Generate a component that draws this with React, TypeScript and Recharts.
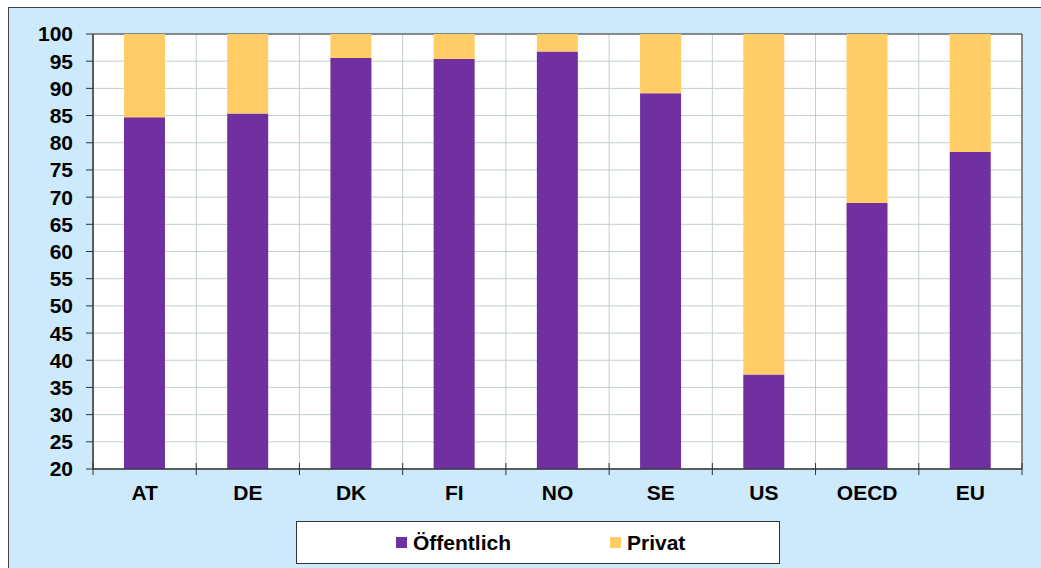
import { BarChart, Bar, XAxis, YAxis, CartesianGrid, Legend, ReferenceArea } from 'recharts';

const categories = ['AT', 'DE', 'DK', 'FI', 'NO', 'SE', 'US', 'OECD', 'EU'];
const oeffentlich = [84.7, 85.4, 95.6, 95.4, 96.8, 89.1, 37.4, 68.9, 78.3];
const privat = [15.3, 14.6, 4.4, 4.6, 3.2, 10.9, 62.6, 31.1, 21.7];
const yTicks = [20, 25, 30, 35, 40, 45, 50, 55, 60, 65, 70, 75, 80, 85, 90, 95, 100];
const legendOrder = ['oeff', 'privat'];

const COLORS = {
  oeff: '#7030a0',
  privat: '#ffcc66',
};

const FONT = '"Liberation Sans", Arial, sans-serif';
const FONT_SIZE = 21;
const CHART_W = 1032;
const CHART_H = 560;
const MARGIN = { top: 26, right: 19, left: 0, bottom: 59 };
const Y_AXIS_W = 84;

const data = categories.map((name, i) => ({
  name,
  oeff: oeffentlich[i],
  privat: privat[i],
}));

const plotWidth = CHART_W - MARGIN.left - MARGIN.right - Y_AXIS_W;
const band = plotWidth / categories.length;

function CategoryTick(props: any) {
  const { x, y, payload, index } = props;
  const isLast = index === categories.length - 1;
  return (
    <g>
      <line x1={x - band / 2} x2={x - band / 2} y1={y - 6} y2={y + 6} stroke="#333" />
      {isLast && <line x1={x + band / 2} x2={x + band / 2} y1={y - 6} y2={y + 6} stroke="#333" />}
      <text
        x={x}
        y={y + 31}
        textAnchor="middle"
        fontFamily={FONT}
        fontWeight="bold"
        fontSize={FONT_SIZE}
        fill="#000"
      >
        {payload.value}
      </text>
    </g>
  );
}

function LegendBox({ payload }: any) {
  const offsets = [99, 313];
  const items = [...(payload || [])].sort(
    (a: any, b: any) => legendOrder.indexOf(a.dataKey) - legendOrder.indexOf(b.dataKey)
  );
  return (
    <div
      style={{
        position: 'relative',
        width: 484,
        height: 43,
        boxSizing: 'border-box',
        background: '#fff',
        border: '1px solid #333',
        fontFamily: FONT,
        fontWeight: 'bold',
        fontSize: FONT_SIZE,
        color: '#000',
      }}
    >
      {items.map((entry: any, i: number) => (
        <div
          key={`legend-${i}`}
          style={{
            position: 'absolute',
            left: offsets[i],
            top: 0,
            height: 41,
            display: 'flex',
            alignItems: 'center',
          }}
        >
          <span style={{ width: 11, height: 11, background: entry.color, marginRight: 6, display: 'inline-block' }} />
          <span>{entry.value}</span>
        </div>
      ))}
    </div>
  );
}

export default function App() {
  return (
    <div
      style={{
        position: 'fixed',
        left: 8,
        top: 7,
        width: CHART_W + 1,
        height: CHART_H + 1,
        background: '#cceafc',
        borderLeft: '1px solid #444',
        borderTop: '1px solid #444',
        boxSizing: 'border-box',
      }}
    >
      <BarChart width={CHART_W} height={CHART_H} data={data} margin={MARGIN} barCategoryGap="30%">
        <CartesianGrid
          fill="#fff"
          stroke="#c2cece"
          horizontal
          vertical
          verticalCoordinatesGenerator={({ offset }: any) =>
            categories.map((_, i) => offset.left + i * (offset.width / categories.length)).concat([offset.left + offset.width])
          }
        />
        <XAxis
          dataKey="name"
          height={40}
          tickSize={0}
          tickMargin={0}
          tickLine={false}
          axisLine={{ stroke: '#333' }}
          tick={<CategoryTick />}
          interval={0}
        />
        <YAxis
          width={Y_AXIS_W}
          domain={[20, 100]}
          ticks={yTicks}
          allowDataOverflow
          interval={0}
          tickSize={7}
          tickMargin={13}
          axisLine={{ stroke: '#333' }}
          tickLine={{ stroke: '#333' }}
          tick={{ fontFamily: FONT, fontWeight: 'bold', fontSize: FONT_SIZE, fill: '#000' }}
        />
        <Bar dataKey="oeff" name="Öffentlich" stackId="a" fill={COLORS.oeff} isAnimationActive={false} />
        <Bar dataKey="privat" name="Privat" stackId="a" fill={COLORS.privat} isAnimationActive={false} />
        <ReferenceArea y1={20} y2={100} fill="none" stroke="#333" strokeWidth={1} ifOverflow="visible" />
        <Legend
          layout="horizontal"
          verticalAlign="middle"
          align="center"
          content={<LegendBox />}
          wrapperStyle={{ left: 287, top: 513, width: 484, height: 43 }}
        />
      </BarChart>
    </div>
  );
}
